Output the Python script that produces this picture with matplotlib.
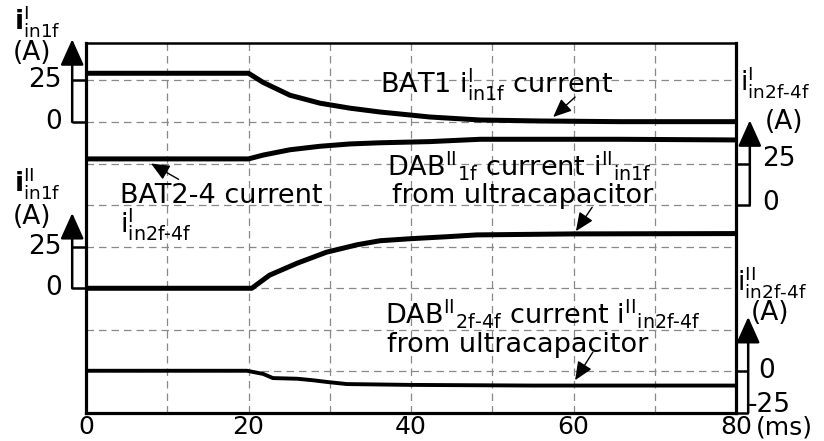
# 4本の電流波形（オシロスコープ風）を再現する
import matplotlib
matplotlib.use("Agg")
import matplotlib.pyplot as plt

plt.rcParams["font.family"] = ["DejaVu Sans"]
plt.rcParams["mathtext.fontset"] = "dejavusans"

# 時間 [ms] と電流 [A]
t1 = [0, 20, 21.8, 25.1, 28.8, 32.5, 36.2, 39.9, 42.3, 48.5, 55.9, 65.7, 80]
i1 = [29.3, 29.3, 23.8, 16.1, 11.3, 8.3, 6.0, 4.2, 3.0, 1.2, 0.6, 0.2, 0.2]

t2 = [0, 20, 21.8, 25.1, 28.8, 32.5, 36.2, 42.3, 48.5, 65.7, 80]
i2 = [27.8, 27.8, 30.1, 33.3, 35.4, 36.8, 37.5, 38.2, 39.6, 39.6, 39.2]

t3 = [0, 20.4, 22.6, 26, 29.6, 33.4, 36.2, 39.9, 44.4, 48.1, 60, 80]
i3 = [0, 0, 7.9, 15.1, 21.7, 26.2, 28.6, 29.8, 31.0, 32.1, 32.7, 32.9]

t4 = [0, 19.8, 21.8, 23.0, 26.0, 27.9, 29.6, 32.1, 39.9, 55, 80]
i4 = [0.4, 0.4, -1.5, -4.0, -4.4, -5.3, -6.3, -7.6, -8.1, -8.5, -8.5]

x_ticks = [0, 20, 40, 60, 80]

# 25 A/div, 各波形のゼロ位置（div）
A_PER_DIV = 25
zero1, zero2, zero3, zero4 = 7, 5, 3, 1


def to_div(vals, zero):
    return [zero + v / A_PER_DIV for v in vals]


fig = plt.figure(figsize=(8.24, 4.41), dpi=100)
ax = fig.add_axes([86 / 824, 28 / 441, 650 / 824, 370 / 441])
ax.set_xlim(0, 80)
ax.set_ylim(0, 8.9)

# グリッド
for x in range(10, 80, 10):
    ax.axvline(x, color="#888888", lw=0.9, ls=(0, (6, 4)), zorder=1)
for y in range(1, 9):
    ax.axhline(y, color="#888888", lw=0.9, ls=(0, (6, 4)), zorder=1)

ax.plot(t1, to_div(i1, zero1), color="black", lw=3.6, zorder=3)
ax.plot(t2, to_div(i2, zero2), color="black", lw=3.6, zorder=3)
ax.plot(t3, to_div(i3, zero3), color="black", lw=3.6, zorder=3)
ax.plot(t4, to_div(i4, zero4), color="black", lw=2.8, zorder=3)

for s in ax.spines.values():
    s.set_linewidth(2.3)
ax.spines["top"].set_linewidth(1.8)

ax.set_xticks(x_ticks)
ax.set_xticklabels([str(v) for v in x_ticks], fontsize=18)
ax.set_yticks([])
ax.tick_params(axis="x", length=0, pad=1.5)
ax.text(82.5, -0.36, "(ms)", fontsize=18, va="center", ha="left", clip_on=False)

# スケール矢印
arrow_kw = dict(arrowstyle="-|>,head_length=1.6,head_width=0.72", lw=1.8,
                color="black", mutation_scale=10, shrinkA=0, shrinkB=0)


def scale(x, lo, tip, ticks, side):
    ax.annotate("", xy=(x, tip), xytext=(x, lo), arrowprops=arrow_kw,
                annotation_clip=False)
    edge = 0 if side == "left" else 80
    for y in ticks:
        ax.plot([x, edge], [y, y], color="black", lw=1.8, clip_on=False,
                solid_capstyle="butt")


scale(-1.7, zero1, 8.99, [zero1, zero1 + 1], "left")
scale(-1.7, zero3, 4.81, [zero3, zero3 + 1], "left")
scale(81.7, zero2, 7.04, [zero2, zero2 + 1], "right")
scale(81.5, zero4 - 1, 2.31, [zero4, zero4 - 1], "right")

fs = 19
# 左側ラベル
ax.text(-8.9, 9.22, r"$\mathbf{i}^{\mathrm{I}}_{\mathrm{in1f}}$", fontsize=fs,
        va="baseline", ha="left", clip_on=False)
ax.text(-6.65, 8.66, "(A)", fontsize=fs, ha="center", va="center", clip_on=False)
ax.text(-2.95, zero1 + 1, "25", fontsize=fs, ha="right", va="center", clip_on=False)
ax.text(-2.95, zero1, "0", fontsize=fs, ha="right", va="center", clip_on=False)

ax.text(-8.9, 5.32, r"$\mathbf{i}^{\mathrm{II}}_{\mathrm{in1f}}$", fontsize=fs,
        va="baseline", ha="left", clip_on=False)
ax.text(-6.65, 4.72, "(A)", fontsize=fs, ha="center", va="center", clip_on=False)
ax.text(-2.95, zero3 + 1, "25", fontsize=fs, ha="right", va="center", clip_on=False)
ax.text(-2.95, zero3, "0", fontsize=fs, ha="right", va="center", clip_on=False)

# 右側ラベル
ax.text(80.5, 7.76, r"$\mathrm{i}^{\mathrm{I}}_{\mathrm{in2f\text{-}4f}}$", fontsize=fs,
        va="baseline", ha="left", clip_on=False)
ax.text(85.9, 7.0, "(A)", fontsize=fs, ha="center", va="center", clip_on=False)
ax.text(83.2, zero2 + 1.12, "25", fontsize=fs, ha="left", va="center", clip_on=False)
ax.text(83.2, zero2 + 0.05, "0", fontsize=fs, ha="left", va="center", clip_on=False)

ax.text(80.1, 2.95, r"$\mathrm{i}^{\mathrm{II}}_{\mathrm{in2f\text{-}4f}}$", fontsize=fs,
        va="baseline", ha="left", clip_on=False)
ax.text(84.2, 2.40, "(A)", fontsize=fs, ha="center", va="center", clip_on=False)
ax.text(82.7, zero4, "0", fontsize=fs, ha="left", va="center", clip_on=False)
ax.text(81.5, 0.2, "-25", fontsize=fs, ha="left", va="center", clip_on=False)

# 注記
note_kw = dict(arrowstyle="-|>,head_length=0.8,head_width=0.35", lw=1,
               color="black", mutation_scale=14, shrinkA=0, shrinkB=0)
fa = 19.5

ax.text(36.2, 7.72, r"BAT1 $\mathrm{i}^{\mathrm{I}}_{\mathrm{in1f}}$ current",
        fontsize=fa, va="baseline")
ax.annotate("", xy=(57.5, 7.12), xytext=(60.2, 7.6), arrowprops=note_kw)

ax.text(4.2, 5.05, "BAT2-4 current", fontsize=fa, va="baseline")
ax.text(4.2, 4.33, r"$\mathrm{i}^{\mathrm{I}}_{\mathrm{in2f\text{-}4f}}$",
        fontsize=fa, va="baseline")
ax.annotate("", xy=(8.0, 6.0), xytext=(11.4, 5.62), arrowprops=note_kw)

ax.text(37.0, 5.72,
        r"$\mathrm{DAB}^{\mathrm{II}}{}_{\mathrm{1f}}$ current $\mathrm{i}^{\mathrm{II}}{}_{\mathrm{in1f}}$",
        fontsize=fa, va="baseline")
ax.text(37.7, 5.05, "from ultracapacitor", fontsize=fa, va="baseline")
ax.annotate("", xy=(60.3, 4.375), xytext=(62.3, 4.95), arrowprops=note_kw)

ax.text(36.8, 2.16,
        r"$\mathrm{DAB}^{\mathrm{II}}{}_{\mathrm{2f\text{-}4f}}$ current $\mathrm{i}^{\mathrm{II}}{}_{\mathrm{in2f\text{-}4f}}$",
        fontsize=fa, va="baseline")
ax.text(37.0, 1.47, "from ultracapacitor", fontsize=fa, va="baseline")
ax.annotate("", xy=(60.2, 0.79), xytext=(62.4, 1.47), arrowprops=note_kw)

fig.savefig("out.png", dpi=100)
